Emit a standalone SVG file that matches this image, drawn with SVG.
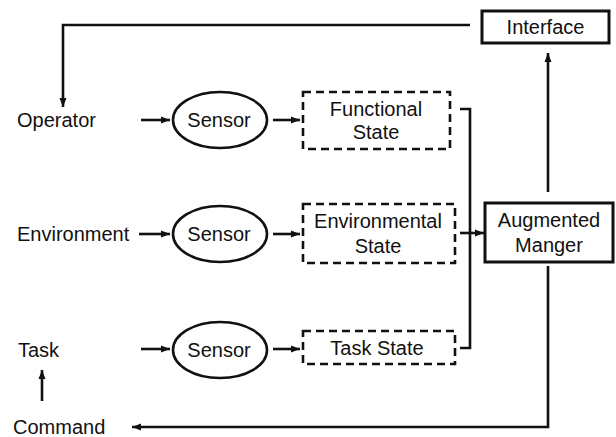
<svg xmlns="http://www.w3.org/2000/svg" width="616" height="437" viewBox="0 0 616 437">
<style>
text{font-family:"Liberation Sans",Arial,sans-serif;font-size:20px;fill:#111}
.c{text-anchor:middle}
.solid{fill:#fff;stroke:#111;stroke-width:3}
.dash{fill:#fff;stroke:#111;stroke-width:2.6;stroke-dasharray:8 5}
.ell{fill:#fff;stroke:#111;stroke-width:2.6}
.ln{fill:none;stroke:#111;stroke-width:2.6}
</style>
<defs>
<marker id="ah" markerUnits="userSpaceOnUse" markerWidth="10" markerHeight="8" refX="9" refY="4" orient="auto">
<path d="M0,0.5 L9,4 L0,7.5 Z" fill="#111"/>
</marker>
</defs>
<g id="connectors">
<path class="ln" d="M470,25 H63 V107" marker-end="url(#ah)"/>
<path class="ln" d="M141,120 H170" marker-end="url(#ah)"/>
<path class="ln" d="M139,234 H170" marker-end="url(#ah)"/>
<path class="ln" d="M141,349 H170" marker-end="url(#ah)"/>
<path class="ln" d="M273,120 H300" marker-end="url(#ah)"/>
<path class="ln" d="M273,234 H300" marker-end="url(#ah)"/>
<path class="ln" d="M273,349 H300" marker-end="url(#ah)"/>
<path class="ln" d="M460,109 H470 V348 H460"/>
<path class="ln" d="M460,233 H484" marker-end="url(#ah)"/>
<path class="ln" d="M548,192 V53" marker-end="url(#ah)"/>
<path class="ln" d="M548,266 V427 H132" marker-end="url(#ah)"/>
<path class="ln" d="M42,401 V370" marker-end="url(#ah)"/>
</g>
<g id="interface"><rect class="solid" x="482" y="11" width="127" height="32"/><text class="c" x="545.5" y="34">Interface</text></g>
<g id="operator"><text x="17" y="127">Operator</text></g>
<g id="environment"><text x="17" y="241">Environment</text></g>
<g id="task"><text x="18" y="357">Task</text></g>
<g id="command"><text x="13" y="434">Command</text></g>
<g id="sensor1"><ellipse class="ell" cx="220" cy="120" rx="47" ry="28"/><text class="c" x="219" y="127">Sensor</text></g>
<g id="sensor2"><ellipse class="ell" cx="220" cy="234" rx="47" ry="28"/><text class="c" x="219" y="241">Sensor</text></g>
<g id="sensor3"><ellipse class="ell" cx="220" cy="350" rx="47" ry="28"/><text class="c" x="219" y="357">Sensor</text></g>
<g id="functional"><rect class="dash" x="303" y="92" width="147" height="57"/><text class="c" x="376" y="116">Functional</text><text class="c" x="376" y="139">State</text></g>
<g id="environmental"><rect class="dash" x="303" y="204" width="152" height="59"/><text class="c" x="378" y="228">Environmental</text><text class="c" x="378" y="253">State</text></g>
<g id="taskstate"><rect class="dash" x="303" y="331" width="152" height="33"/><text class="c" x="377" y="355">Task State</text></g>
<g id="augmented"><rect class="solid" x="485" y="203" width="128" height="59"/><text class="c" x="549" y="227">Augmented</text><text class="c" x="549" y="252">Manger</text></g>
</svg>
